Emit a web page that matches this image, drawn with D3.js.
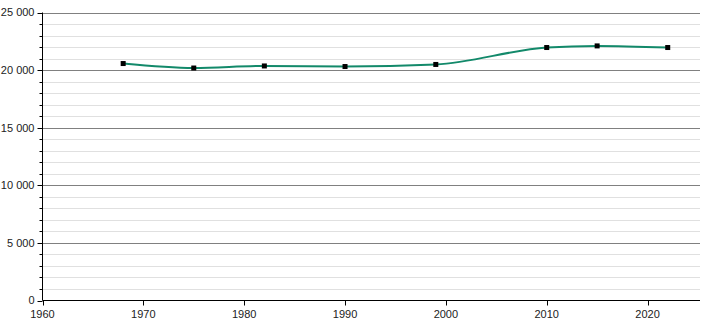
<!DOCTYPE html>
<html><head><meta charset="utf-8">
<script src="https://cdn.jsdelivr.net/npm/d3@7"></script>
<style>body{margin:0;background:#fff}svg{display:block}text{font-family:"Liberation Sans",Arial,sans-serif;font-size:11px;fill:#222}</style>
</head><body><svg id="c" width="710" height="320"></svg>
<script>
const years = [1968, 1975, 1982, 1990, 1999, 2010, 2015, 2022];
const population = [20570, 20180, 20360, 20310, 20490, 21960, 22100, 21960];
const yMajorTicks = [0, 5000, 10000, 15000, 20000, 25000];
const xTicks = [1960, 1970, 1980, 1990, 2000, 2010, 2020];

const svg = d3.select("#c");
const m = {l: 42.5, r: 700, t: 12.5, b: 300.5};
const x = d3.scaleLinear().domain([1960, 2025.2]).range([m.l, m.r]);
const y = d3.scaleLinear().domain([0, 25000]).range([m.b, m.t]);
const fmt = v => d3.format(",")(v).replace(/,/g, " ");

const minor = d3.range(0, 25001, 1000).filter(v => v % 5000 !== 0);
svg.append("g").selectAll("line").data(minor).join("line")
  .attr("x1", m.l).attr("x2", m.r).attr("y1", d => Math.round(y(d)) + 0.5).attr("y2", d => Math.round(y(d)) + 0.5)
  .attr("stroke", "#e0e0e0").attr("stroke-width", 1);
svg.append("g").selectAll("line").data(yMajorTicks.filter(d => d > 0)).join("line")
  .attr("x1", m.l).attr("x2", m.r).attr("y1", d => Math.round(y(d)) + 0.5).attr("y2", d => Math.round(y(d)) + 0.5)
  .attr("stroke", "#808080").attr("stroke-width", 1);

// y axis
const ya = svg.append("g").attr("transform", `translate(${m.l},0)`);
ya.append("line").attr("x1", 0).attr("x2", 0).attr("y1", m.t).attr("y2", m.b).attr("stroke", "#000");
ya.selectAll("line.mi").data(minor).join("line").attr("class", "mi")
  .attr("x1", -3).attr("x2", 0).attr("y1", d => Math.round(y(d)) + 0.5).attr("y2", d => Math.round(y(d)) + 0.5).attr("stroke", "#000");
ya.selectAll("line.ma").data(yMajorTicks).join("line").attr("class", "ma")
  .attr("x1", -5).attr("x2", 0).attr("y1", d => Math.round(y(d)) + 0.5).attr("y2", d => Math.round(y(d)) + 0.5).attr("stroke", "#000");
ya.selectAll("text").data(yMajorTicks).join("text")
  .attr("x", -8).attr("y", d => y(d)).attr("dy", "0.35em").attr("text-anchor", "end").text(fmt);

// x axis
const xa = svg.append("g").attr("transform", `translate(0,${m.b})`);
xa.append("line").attr("x1", m.l).attr("x2", m.r).attr("stroke", "#000");
xa.selectAll("line.t").data(xTicks).join("line").attr("class", "t")
  .attr("x1", d => Math.round(x(d)) + 0.5).attr("x2", d => Math.round(x(d)) + 0.5).attr("y1", 0).attr("y2", 5).attr("stroke", "#000");
xa.selectAll("text").data(xTicks).join("text")
  .attr("x", d => x(d)).attr("y", 14).attr("dy", "0.35em").attr("text-anchor", "middle").text(d => d);

// line
const data = years.map((yr, i) => ({yr, v: population[i]}));
svg.append("path").datum(data)
  .attr("d", d3.line().x(d => x(d.yr)).y(d => y(d.v)).curve(d3.curveMonotoneX))
  .attr("fill", "none").attr("stroke", "#12896a").attr("stroke-width", 2);
svg.append("g").selectAll("rect").data(data).join("rect")
  .attr("x", d => x(d.yr) - 2.5).attr("y", d => y(d.v) - 2.5).attr("width", 5).attr("height", 5).attr("fill", "#000");
</script></body></html>
